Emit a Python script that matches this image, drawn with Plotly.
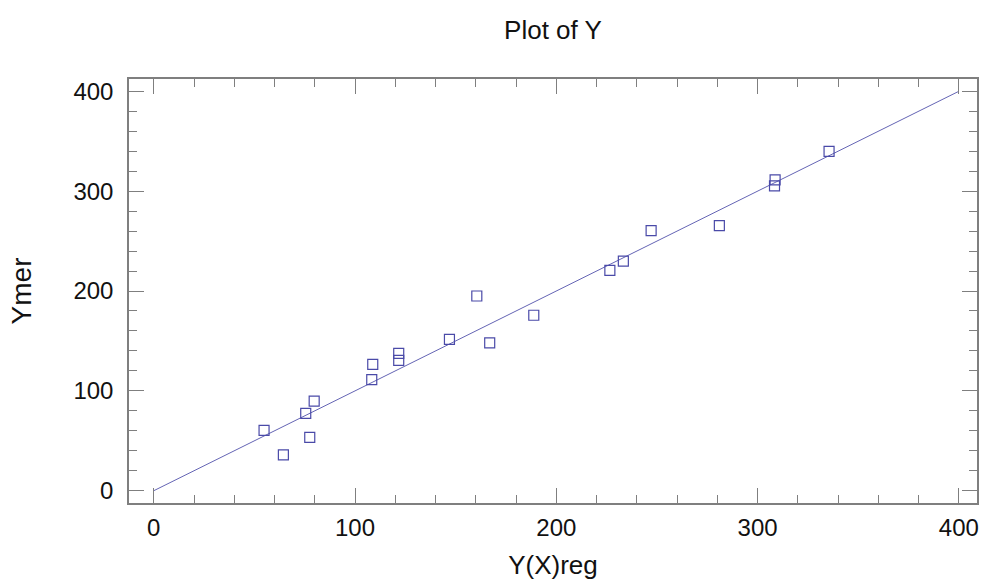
import plotly.graph_objects as go

y_reg = [54.8, 64.4, 75.5, 77.5, 79.7, 108.8, 108.3, 121.7, 121.7, 146.9,
         160.5, 166.9, 188.8, 226.6, 233.3, 247.1, 281.0, 308.4, 308.7, 335.5]
y_mer = [60.5, 35.8, 77.5, 53.5, 89.8, 126.6, 111.2, 137.6, 130.6, 151.6,
         195.0, 148.0, 175.7, 220.7, 230.0, 260.4, 265.4, 305.2, 311.2, 339.9]

# fitted line (y = x)
line_x = [0, 400]
line_y = [0, 400]

BLUE = "#4a4aa8"
AXIS_GRAY = "#7f7f7f"
FONT = "Liberation Sans, Arial, sans-serif"

W, H = 984, 580

fig = go.Figure()
fig.add_trace(
    go.Scatter(
        x=line_x,
        y=line_y,
        mode="lines",
        line=dict(color="#6464b4", width=1),
        hoverinfo="skip",
    )
)
fig.add_trace(
    go.Scatter(
        x=y_reg,
        y=y_mer,
        mode="markers",
        marker=dict(symbol="square-open", size=10, color=BLUE, line=dict(width=1.2)),
    )
)

axis_common = dict(
    showgrid=False,
    zeroline=False,
    showline=True,
    linecolor=AXIS_GRAY,
    linewidth=1.5,
    mirror="ticks",
    ticks="inside",
    ticklen=15,
    tickwidth=1.2,
    tickcolor=AXIS_GRAY,
    dtick=100,
    tick0=0,
    tickfont=dict(family=FONT, size=24, color="#111111"),
    automargin=False,
    minor=dict(dtick=20, tick0=0, ticks="inside", ticklen=8, tickcolor=AXIS_GRAY, tickwidth=1.2),
)

fig.update_layout(
    width=W,
    height=H,
    margin=dict(l=129, r=7, t=79, b=77),
    paper_bgcolor="white",
    plot_bgcolor="white",
    showlegend=False,
    font=dict(family=FONT, color="#111111"),
    title=dict(
        text="Plot of Y",
        x=0.5,
        xref="paper",
        xanchor="center",
        y=1 - 30 / H,
        yref="container",
        yanchor="middle",
        font=dict(family=FONT, size=26, color="#111111"),
    ),
    xaxis=dict(
        range=[-12.3, 409],
        ticklabelstandoff=2,
        title=dict(text="Y(X)reg", font=dict(family=FONT, size=26), standoff=18),
        **axis_common,
    ),
    yaxis=dict(
        range=[-12.3, 412.3],
        ticklabelstandoff=9,
        title=dict(text="Ymer", font=dict(family=FONT, size=28), standoff=34),
        **axis_common,
    ),
)

# drop the default page margin so the figure fills the window exactly
fig.write_html(
    "out.html",
    config={"displayModeBar": False},
    post_script="document.body.style.margin='0';document.body.style.overflow='hidden';",
)
